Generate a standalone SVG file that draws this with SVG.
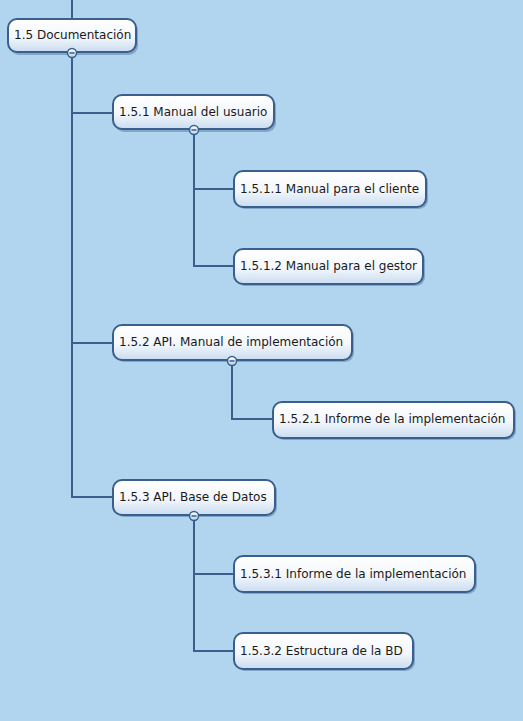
<svg xmlns="http://www.w3.org/2000/svg" width="523" height="721" viewBox="0 0 523 721">
<defs>
<linearGradient id="g" x1="0" y1="0" x2="0" y2="1">
<stop offset="0" stop-color="#ffffff"/>
<stop offset="0.55" stop-color="#f3f7fc"/>
<stop offset="1" stop-color="#c9dcf0"/>
</linearGradient>
<linearGradient id="cg" x1="0" y1="0" x2="0" y2="1">
<stop offset="0" stop-color="#ffffff"/>
<stop offset="1" stop-color="#b9cfe6"/>
</linearGradient>
</defs>
<style>
.box{fill:url(#g);stroke:#3b5f8c;stroke-width:2}
.sh{fill:#5b7fa6;opacity:0.55}
.t{font-family:"DejaVu Sans",Verdana,sans-serif;font-size:12px;fill:#1a1a1a}
.c{fill:none;stroke:#3b5f8c;stroke-width:2}
.tog{fill:url(#cg);stroke:#3b5f8c;stroke-width:1.5}
.m{stroke:#3b5f8c;stroke-width:1.5}
</style>
<rect width="523" height="721" fill="#b1d5ef"/>
<g id="connectors">
<path class="c" d="M72 0V19"/>
<path class="c" d="M72 53V497H113"/>
<path class="c" d="M72 113H113"/>
<path class="c" d="M72 343H113"/>
<path class="c" d="M194 130V266H234"/>
<path class="c" d="M194 189H234"/>
<path class="c" d="M232 361V419H273"/>
<path class="c" d="M194 516V651H234"/>
<path class="c" d="M194 574H234"/>
</g>
<g id="n1">
<rect class="sh" x="10" y="21" width="128" height="34" rx="9"/>
<rect class="box" x="8" y="19" width="128" height="33" rx="9"/>
<text class="t" x="14" y="39">1.5 Documentación</text>
<circle class="tog" cx="72" cy="53" r="4.5"/><path class="m" d="M69.5 53H74.5"/>
</g>
<g id="n2">
<rect class="sh" x="115" y="97" width="161" height="35" rx="9"/>
<rect class="box" x="113" y="95" width="161" height="34" rx="9"/>
<text class="t" x="119" y="116">1.5.1 Manual del usuario</text>
<circle class="tog" cx="194" cy="130" r="4.5"/><path class="m" d="M191.5 130H196.5"/>
</g>
<g id="n3">
<rect class="sh" x="236" y="173" width="192" height="36" rx="9"/>
<rect class="box" x="234" y="171" width="192" height="36" rx="9"/>
<text class="t" x="240" y="193">1.5.1.1 Manual para el cliente</text>
</g>
<g id="n4">
<rect class="sh" x="236" y="251" width="189" height="35" rx="9"/>
<rect class="box" x="234" y="249" width="189" height="35" rx="9"/>
<text class="t" x="240" y="270">1.5.1.2 Manual para el gestor</text>
</g>
<g id="n5">
<rect class="sh" x="115" y="327" width="239" height="35" rx="9"/>
<rect class="box" x="113" y="325" width="239" height="35" rx="9"/>
<text class="t" x="119" y="346">1.5.2 API. Manual de implementación</text>
<circle class="tog" cx="232" cy="361" r="4.5"/><path class="m" d="M229.5 361H234.5"/>
</g>
<g id="n6">
<rect class="sh" x="275" y="404" width="241" height="36" rx="9"/>
<rect class="box" x="273" y="402" width="241" height="36" rx="9"/>
<text class="t" x="279" y="423">1.5.2.1 Informe de la implementación</text>
</g>
<g id="n7">
<rect class="sh" x="115" y="482" width="162" height="35" rx="9"/>
<rect class="box" x="113" y="480" width="162" height="35" rx="9"/>
<text class="t" x="119" y="501">1.5.3 API. Base de Datos</text>
<circle class="tog" cx="194" cy="516" r="4.5"/><path class="m" d="M191.5 516H196.5"/>
</g>
<g id="n8">
<rect class="sh" x="236" y="558" width="241" height="36" rx="9"/>
<rect class="box" x="234" y="556" width="241" height="36" rx="9"/>
<text class="t" x="240" y="578">1.5.3.1 Informe de la implementación</text>
</g>
<g id="n9">
<rect class="sh" x="236" y="635" width="179" height="36" rx="9"/>
<rect class="box" x="234" y="633" width="179" height="36" rx="9"/>
<text class="t" x="240" y="655">1.5.3.2 Estructura de la BD</text>
</g>
</svg>
